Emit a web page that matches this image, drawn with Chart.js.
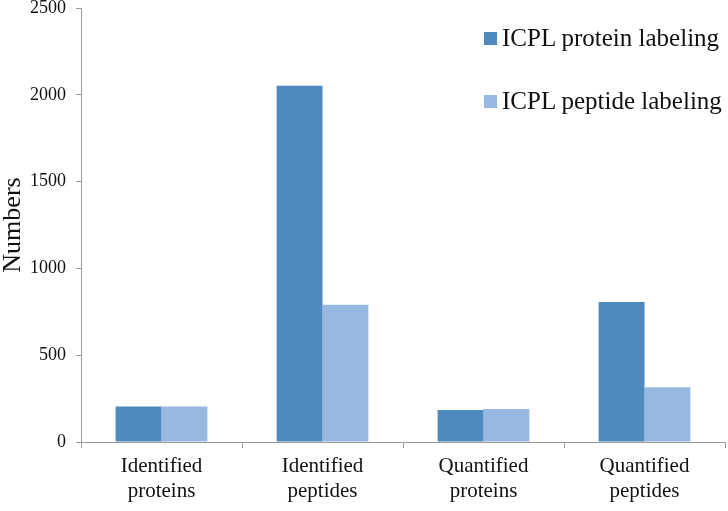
<!DOCTYPE html>
<html>
<head>
<meta charset="utf-8">
<script src="https://cdn.jsdelivr.net/npm/chart.js@4.4.1/dist/chart.umd.min.js"></script>
<style>
    html, body { margin: 0; padding: 0; background: #fff; }
    #wrap { position: relative; width: 728px; height: 511px; }
    #legend {
        position: absolute; left: 484px; top: 22px;
        font-family: "Liberation Serif", "Times New Roman", serif;
        font-size: 25px; color: #111;
    }
    #legend .item { display: flex; align-items: center; height: 32px; margin-bottom: 31px; }
    #legend .box { width: 13px; height: 13px; margin-right: 5px; }
</style>
</head>
<body>
<div id="wrap">
    <canvas id="chart" width="728" height="511"></canvas>
    <div id="legend"></div>
</div>
<script>
// Data
const categories = [['Identified', 'proteins'], ['Identified', 'peptides'], ['Quantified', 'proteins'], ['Quantified', 'peptides']];
const seriesNames = ['ICPL protein labeling', 'ICPL peptide labeling'];
const proteinLabeling = [205, 2052, 185, 806];
const peptideLabeling = [205, 790, 190, 316];
const yTicks = [0, 500, 1000, 1500, 2000, 2500];

const colors = ['#4F89BD', '#97B8E0'];
const axisColor = '#9a9a9a';
const serif = '"Liberation Serif", "Times New Roman", serif';

const ctx = document.getElementById('chart').getContext('2d');

const chart = new Chart(ctx, {
    type: 'bar',
    data: {
        labels: categories,
        datasets: [
            { label: seriesNames[0], data: proteinLabeling, backgroundColor: colors[0], barPercentage: 1.0, categoryPercentage: 0.57 },
            { label: seriesNames[1], data: peptideLabeling, backgroundColor: colors[1], barPercentage: 1.0, categoryPercentage: 0.57 }
        ]
    },
    options: {
        responsive: false,
        animation: false,
        layout: { padding: { top: 8, right: 3, left: 0, bottom: 0 } },
        plugins: {
            legend: { display: false },
            tooltip: { enabled: false }
        },
        scales: {
            x: {
                grid: { display: true, drawOnChartArea: false, drawTicks: true, tickLength: 6, color: axisColor, offset: true },
                border: { display: true, color: axisColor, width: 1 },
                ticks: { color: '#111', font: { family: serif, size: 21 }, padding: 6, maxRotation: 0, autoSkip: false },
                afterFit: (scale) => { scale.height = 69; }
            },
            y: {
                min: 0,
                max: 2500,
                afterBuildTicks: (scale) => { scale.ticks = yTicks.map(v => ({ value: v })); },
                grid: { display: true, drawOnChartArea: false, drawTicks: true, tickLength: 5, color: axisColor },
                border: { display: true, color: axisColor, width: 1 },
                ticks: { color: '#111', font: { family: serif, size: 18 }, padding: 10, callback: (v) => String(v) },
                title: { display: true, text: 'Numbers', color: '#111', font: { family: serif, size: 26, lineHeight: 1.0 }, padding: 0 },
                afterFit: (scale) => { scale.width = 81; scale.paddingTop = 0; scale.paddingBottom = 0; }
            }
        }
    }
});

// HTML legend
const legendEl = document.getElementById('legend');
seriesNames.forEach((name, i) => {
    const item = document.createElement('div');
    item.className = 'item';
    item.innerHTML = `<span class="box" style="background:${colors[i]}"></span><span>${name}</span>`;
    legendEl.appendChild(item);
});
</script>
</body>
</html>
